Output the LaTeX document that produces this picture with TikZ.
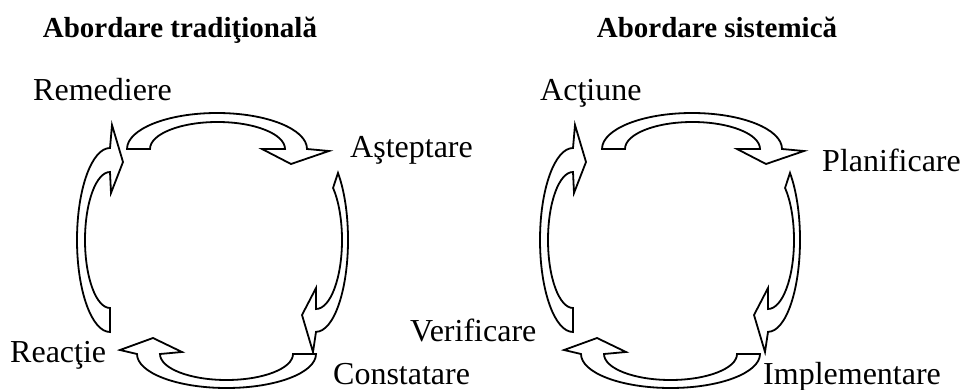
\documentclass[tikz,border=0pt]{standalone}
\usepackage{fontspec}
\setmainfont{Liberation Serif}
\begin{document}
\begin{tikzpicture}[x=1pt,y=-1pt,
  blk/.style={draw=black, line width=1.8pt, line join=miter, fill=white},
  lbl/.style={font=\fontsize{32}{36}\selectfont, inner sep=0pt, anchor=base west},
  ttl/.style={font=\fontsize{29}{33}\selectfont\bfseries, inner sep=0pt, anchor=base},
  toparr/.pic={\path[blk] (127,149) arc[start angle=180,end angle=360,x radius=90,y radius=36] -- (329,151) -- (291,164) -- (262,149) -- (285,149) arc[start angle=360,end angle=180,x radius=67.5,y radius=27] -- cycle;},
  leftarr/.pic={\path[blk] (110,308) arc[start angle=90,end angle=270,x radius=25,y radius=68] -- (111,193) -- (123,162) -- (112,125) -- (110,148) arc[start angle=270,end angle=90,x radius=33,y radius=92] -- cycle;},
  rightarr/.pic={\path[blk] (338,173) arc[start angle=313.4,end angle=450,x radius=32,y radius=92] -- (313,352) -- (302,315) -- (316,288) -- (316,309) arc[start angle=450,end angle=311,x radius=26,y radius=69] -- cycle;},
  botarr/.pic={\path[blk] (137,354) arc[start angle=180,end angle=0,x radius=89.5,y radius=34] -- (293,354) arc[start angle=0,end angle=180,x radius=66.5,y radius=26] -- (182,352) -- (153,338) -- (120,350) -- cycle;}
]
\useasboundingbox (0,0) rectangle (963,390);

% left group
\pic at (0,0) {toparr};
\pic at (0,0) {leftarr};
\pic at (0,0) {rightarr};
\pic at (0,0) {botarr};
% right group
\pic at (475,0) {toparr};
\pic at (463,0) {leftarr};
\pic at (452,0) {rightarr};
\pic at (444,0) {botarr};

\node[ttl] (t1) at (180,38) {Abordare tradiţională};
\node[ttl] (t2) at (717,38) {Abordare sistemică};

\node[lbl] (rem) at (33,101) {Remediere};
\node[lbl] (ast) at (350,158) {Aşteptare};
\node[lbl] (rea) at (10,362) {Reacţie};
\node[lbl] (con) at (333,384) {Constatare};

\node[lbl] (act) at (540,101) {Acţiune};
\node[lbl] (pla) at (822,172) {Planificare};
\node[lbl] (ver) at (410,341) {Verificare};
\node[lbl] (imp) at (763,384) {Implementare};
\end{tikzpicture}
\end{document}
